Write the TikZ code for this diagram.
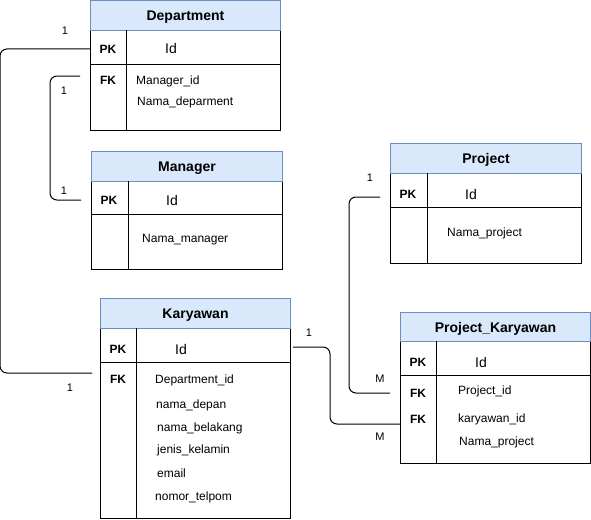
\documentclass[tikz,border=0pt]{standalone}
\usepackage{fontspec}
\setmainfont{Liberation Sans}
\definecolor{hdrfill}{HTML}{DAE8FC}
\definecolor{hdrline}{HTML}{6C8EBF}
\tikzset{
  hdr/.style={draw=hdrline, fill=hdrfill, line width=1pt, inner sep=0pt, anchor=north west,
    text height=10pt, text depth=0pt, font=\fontsize{14}{16}\selectfont\bfseries},
  tbl/.style={draw=black, line width=1pt, inner sep=0pt, anchor=north west},
  keytxt/.style={font=\fontsize{12}{14}\selectfont\bfseries, inner sep=0pt, text height=8.6pt, text depth=0pt},
  idtxt/.style={font=\fontsize{14}{16}\selectfont, inner sep=0pt, text height=10pt, text depth=0pt},
  fld/.style={font=\fontsize{12}{14}\selectfont, inner sep=0pt, anchor=west, text height=8.6pt, text depth=0pt},
  lbl/.style={font=\fontsize{11}{13}\selectfont, inner sep=0pt, text height=7.9pt, text depth=0pt},
  conn/.style={draw=black, line width=1pt, rounded corners=7pt},
  rule/.style={draw=black, line width=1pt}
}
\begin{document}
\begin{tikzpicture}[x=1pt,y=-1pt]
\useasboundingbox (0,0) rectangle (591,519);

% ---------- Department ----------
\node[tbl, minimum width=190pt, minimum height=100pt] (depB) at (90,30) {};
\node[hdr, minimum width=190pt, minimum height=30pt] (depH) at (90,0) {Department};
\draw[rule] (90,64) -- (280,64);
\draw[rule] (126,30) -- (126,130);
\node[keytxt] (depPK) at (108,49) {PK};
\node[idtxt] (depId) at (171,49) {Id};
\node[keytxt] (depFK) at (108,80) {FK};
\node[fld] (depF1) at (136,80) {Manager\_id};
\node[fld] (depF2) at (137,101) {Nama\_deparment};

% ---------- Manager ----------
\node[tbl, minimum width=191pt, minimum height=88pt] (manB) at (91,181) {};
\node[hdr, minimum width=191pt, minimum height=30pt] (manH) at (91,151) {Manager};
\draw[rule] (91,214) -- (282,214);
\draw[rule] (128,181) -- (128,269);
\node[keytxt] (manPK) at (109,200) {PK};
\node[idtxt] (manId) at (172,200) {Id};
\node[fld] (manF1) at (142,238) {Nama\_manager};

% ---------- Project ----------
\node[tbl, minimum width=191pt, minimum height=90pt] (prjB) at (390,173) {};
\node[hdr, minimum width=191pt, minimum height=30pt] (prjH) at (390,143) {Project};
\draw[rule] (390,207) -- (581,207);
\draw[rule] (427,173) -- (427,263);
\node[keytxt] (prjPK) at (408,194) {PK};
\node[idtxt] (prjId) at (471,194) {Id};
\node[fld] (prjF1) at (447,232) {Nama\_project};

% ---------- Karyawan ----------
\node[tbl, minimum width=190pt, minimum height=190pt] (karB) at (100,328) {};
\node[hdr, minimum width=190pt, minimum height=30pt] (karH) at (100,298) {Karyawan};
\draw[rule] (100,362) -- (290,362);
\draw[rule] (136,328) -- (136,518);
\node[keytxt] (karPK) at (118,349) {PK};
\node[idtxt] (karId) at (181,349) {Id};
\node[keytxt] (karFK) at (118,379) {FK};
\node[fld] (karF1) at (155,379) {Department\_id};
\node[fld] (karF2) at (156,404) {nama\_depan};
\node[fld] (karF3) at (157,427) {nama\_belakang};
\node[fld] (karF4) at (157,449) {jenis\_kelamin};
\node[fld] (karF5) at (157,473) {email};
\node[fld] (karF6) at (155,496) {nomor\_telpom};

% ---------- Project_Karyawan ----------
\node[tbl, minimum width=190pt, minimum height=122pt] (pkB) at (400,341) {};
\node[hdr, minimum width=190pt, minimum height=29pt] (pkH) at (400,312) {Project\_Karyawan};
\draw[rule] (400,375) -- (590,375);
\draw[rule] (436,341) -- (436,463);
\node[keytxt] (pkPK) at (418,362) {PK};
\node[idtxt] (pkId) at (481,362) {Id};
\node[keytxt] (pkFK1) at (418,393) {FK};
\node[keytxt] (pkFK2) at (418,419) {FK};
\node[fld] (pkF1) at (458,390) {Project\_id};
\node[fld] (pkF2) at (458,418) {karyawan\_id};
\node[fld] (pkF3) at (459,441) {Nama\_project};

% ---------- connector end points ----------
\coordinate (c1a) at (depB.west |- depPK);
\coordinate (c1b) at (92,373);
\coordinate (c2a) at (80,76);
\coordinate (c2b) at (81,200);
\coordinate (c3a) at (380,197);
\coordinate (c3b) at (390,393);
\coordinate (c4a) at (293,347);
\coordinate (c4b) at (pkB.west |- 0,424);

% ---------- connectors ----------
\draw[conn] (c1a) -- ++(-90,0) |- (c1b);
\draw[conn] (c2a) -- ++(-30,0) |- (c2b);
\draw[conn] (c3a) -- ++(-31,0) |- (c3b);
\draw[conn] (c4a) -- ++(37,0) |- (c4b);

% ---------- cardinality labels ----------
\node[lbl] (l1) at (65,31) {1};
\node[lbl] (l2) at (70,388) {1};
\node[lbl] (l3) at (64,91) {1};
\node[lbl] (l4) at (64,191) {1};
\node[lbl] (l5) at (370,178) {1};
\node[lbl] (l6) at (380,379) {M};
\node[lbl] (l7) at (309,333) {1};
\node[lbl] (l8) at (380,437) {M};
\end{tikzpicture}
\end{document}
